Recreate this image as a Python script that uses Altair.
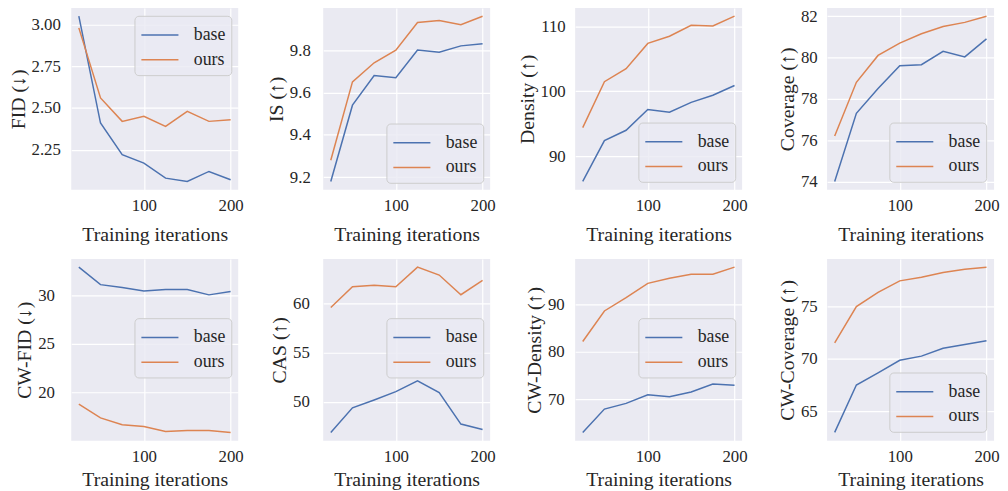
import altair as alt
import pandas as pd

iters = [25, 50, 75, 100, 125, 150, 175, 200]

fid_base = [3.05, 2.41, 2.22, 2.17, 2.08, 2.06, 2.12, 2.07]
fid_ours = [2.98, 2.56, 2.42, 2.45, 2.39, 2.48, 2.42, 2.43]

is_base = [9.18, 9.54, 9.68, 9.67, 9.80, 9.79, 9.82, 9.83]
is_ours = [9.28, 9.65, 9.74, 9.80, 9.93, 9.94, 9.92, 9.96]

den_base = [86.1, 92.4, 94.0, 97.2, 96.8, 98.3, 99.4, 100.9]
den_ours = [94.4, 101.5, 103.5, 107.4, 108.5, 110.2, 110.1, 111.6]

cov_base = [74.0, 77.3, 78.5, 79.6, 79.65, 80.3, 80.03, 80.9]
cov_ours = [76.2, 78.8, 80.1, 80.7, 81.15, 81.5, 81.7, 82.0]

cwfid_base = [32.9, 31.1, 30.8, 30.45, 30.6, 30.6, 30.05, 30.4]
cwfid_ours = [18.8, 17.4, 16.7, 16.5, 16.0, 16.1, 16.1, 15.9]

cas_base = [46.9, 49.4, 50.2, 51.05, 52.15, 50.95, 47.75, 47.2]
cas_ours = [59.6, 61.7, 61.85, 61.7, 63.7, 62.9, 60.9, 62.35]

cwden_base = [63.1, 68.0, 69.2, 71.0, 70.6, 71.6, 73.25, 73.0]
cwden_ours = [82.2, 88.6, 91.4, 94.4, 95.45, 96.3, 96.3, 97.8]

cwcov_base = [63.0, 67.5, 68.65, 69.85, 70.25, 71.0, 71.35, 71.7]
cwcov_ours = [71.5, 74.95, 76.3, 77.4, 77.75, 78.2, 78.5, 78.7]

methods = ["base", "ours"]
colors = ["#4C72B0", "#DD8452"]

# title, base, ours, y ticks, format, legendX, legendY, y label padding, x title padding
panels_spec = [
    ("FID (↓)", fid_base, fid_ours, [2.25, 2.5, 2.75, 3.0], ".2f", 64, 8, 11, 11),
    ("IS (↑)", is_base, is_ours, [9.2, 9.4, 9.6, 9.8], ".1f", 64, 117, 13, 11),
    ("Density (↑)", den_base, den_ours, [90, 100, 110], "d", 64, 116, 10, 11),
    ("Coverage (↑)", cov_base, cov_ours, [74, 76, 78, 80, 82], "d", 63, 116, 10, 11),
    ("CW-FID (↓)", cwfid_base, cwfid_ours, [20, 25, 30], "d", 64, 60, 17, 5),
    ("CAS (↑)", cas_base, cas_ours, [50, 55, 60], "d", 64, 60, 14, 5),
    ("CW-Density (↑)", cwden_base, cwden_ours, [70, 80, 90], "d", 64, 60, 11, 5),
    ("CW-Coverage (↑)", cwcov_base, cwcov_ours, [65, 70, 75], "d", 63, 115, 10, 5),
]

FONT = "Liberation Serif"


def panel(title, base, ours, yticks, fmt, lx, ly, lpad, xtpad):
    df = pd.DataFrame({
        "iter": iters + iters,
        "value": base + ours,
        "method": ["base"] * len(iters) + ["ours"] * len(iters),
    })
    lo = min(base + ours)
    hi = max(base + ours)
    pad = 0.05 * (hi - lo)
    xpad = 0.05 * (max(iters) - min(iters))
    return alt.Chart(df).mark_line(strokeWidth=1.5).encode(
        x=alt.X("iter:Q",
                scale=alt.Scale(domain=[min(iters) - xpad, max(iters) + xpad], nice=False, zero=False),
                axis=alt.Axis(values=[100, 200], title="Training iterations", format="d",
                              titlePadding=xtpad)),
        y=alt.Y("value:Q",
                scale=alt.Scale(domain=[lo - pad, hi + pad], nice=False, zero=False),
                axis=alt.Axis(values=yticks, title=title, format=fmt, labelPadding=lpad)),
        color=alt.Color("method:N",
                        scale=alt.Scale(domain=methods, range=colors),
                        legend=alt.Legend(title=None, orient="none", legendX=lx, legendY=ly)),
    ).properties(width=169, height=184)


charts = [panel(*p) for p in panels_spec]

chart = alt.concat(
    *charts, columns=4, bounds="flush", spacing={"row": 70, "column": 86}
).resolve_scale(color="independent").resolve_legend(color="independent").properties(
    padding={"left": 0, "top": -4, "right": 0, "bottom": 0}
).configure_view(
    fill="#EAEAF2", strokeWidth=0
).configure_axis(
    grid=True, gridColor="white", gridWidth=1.2, domain=False, ticks=False,
    labelFont=FONT, labelFontSize=17, labelColor="#262626",
    titleFont=FONT, titleFontSize=20, titleFontWeight="normal", titleColor="#262626",
).configure_axisX(
    labelPadding=8
).configure_axisY(
    titlePadding=3
).configure_legend(
    fillColor="rgba(234,234,242,0.8)", strokeColor="#CCCCCC", cornerRadius=4,
    padding=6, symbolType="M-1,0H2", symbolStrokeWidth=1.5, symbolSize=625,
    labelFont=FONT, labelFontSize=18, labelColor="#262626", labelOffset=27,
    rowPadding=2,
)

chart.save("out.html", embed_options={"renderer": "svg", "actions": False})
